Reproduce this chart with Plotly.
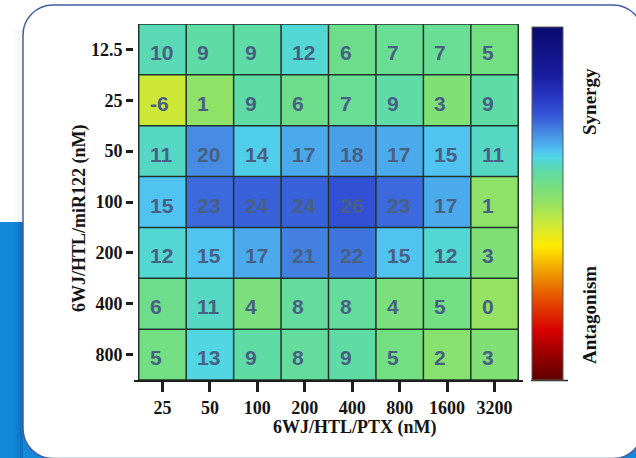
import plotly.graph_objects as go

# ---- data -------------------------------------------------------------
ptx_labels = ["25", "50", "100", "200", "400", "800", "1600", "3200"]
mir_labels = ["12.5", "25", "50", "100", "200", "400", "800"]

row_12_5 = [10, 9, 9, 12, 6, 7, 7, 5]
row_25 = [-6, 1, 9, 6, 7, 9, 3, 9]
row_50 = [11, 20, 14, 17, 18, 17, 15, 11]
row_100 = [15, 23, 24, 24, 26, 23, 17, 1]
row_200 = [12, 15, 17, 21, 22, 15, 12, 3]
row_400 = [6, 11, 4, 8, 8, 4, 5, 0]
row_800 = [5, 13, 9, 8, 9, 5, 2, 3]
scores = [row_12_5, row_25, row_50, row_100, row_200, row_400, row_800]

z_min, z_max = -50, 50

# ---- page geometry ----------------------------------------------------
W, H = 636, 458
ML, MR, MT, MB = 134, 113, 24, 78
PW, PH = W - ML - MR, H - MT - MB


def px(x):
    return (x - ML) / PW


def py(y):
    return (H - MB - y) / PH


def pt(x, y):
    return f"{px(x):.5f},{py(y):.5f}"


def rounded_rect(x0, y0, x1, y1, r):
    k = 0.5523 * r
    return (
        f"M{pt(x0 + r, y0)} L{pt(x1 - r, y0)} "
        f"C{pt(x1 - r + k, y0)} {pt(x1, y0 + r - k)} {pt(x1, y0 + r)} "
        f"L{pt(x1, y1 - r)} "
        f"C{pt(x1, y1 - r + k)} {pt(x1 - r + k, y1)} {pt(x1 - r, y1)} "
        f"L{pt(x0 + r, y1)} "
        f"C{pt(x0 + r - k, y1)} {pt(x0, y1 - r + k)} {pt(x0, y1 - r)} "
        f"L{pt(x0, y0 + r)} "
        f"C{pt(x0, y0 + r - k)} {pt(x0 + r - k, y0)} {pt(x0 + r, y0)} Z"
    )


synergy_scale = [
    [0.00, "rgb(95,0,0)"],
    [0.08, "rgb(160,0,0)"],
    [0.14, "rgb(215,0,0)"],
    [0.22, "rgb(228,70,0)"],
    [0.30, "rgb(238,150,0)"],
    [0.38, "rgb(255,235,0)"],
    [0.44, "rgb(205,232,55)"],
    [0.50, "rgb(150,226,98)"],
    [0.55, "rgb(115,222,130)"],
    [0.59, "rgb(95,219,165)"],
    [0.61, "rgb(85,215,195)"],
    [0.63, "rgb(80,215,225)"],
    [0.65, "rgb(80,195,240)"],
    [0.67, "rgb(75,170,235)"],
    [0.70, "rgb(70,140,228)"],
    [0.73, "rgb(60,105,220)"],
    [0.76, "rgb(50,80,212)"],
    [0.80, "rgb(40,55,195)"],
    [0.86, "rgb(25,30,160)"],
    [1.00, "rgb(10,10,110)"],
]

n_rows, n_cols = len(mir_labels), len(ptx_labels)

fig = go.Figure(
    go.Heatmap(
        z=scores,
        x=list(range(n_cols)),
        y=list(range(n_rows)),
        zmin=z_min,
        zmax=z_max,
        colorscale=synergy_scale,
        hoverinfo="skip",
        colorbar=dict(
            x=px(532), xanchor="left", xpad=0,
            y=0, yanchor="bottom", ypad=0,
            len=(380 - 27) / PH, lenmode="fraction",
            thickness=31, thicknessmode="pixels",
            outlinewidth=1, outlinecolor="rgb(90,90,90)",
            showticklabels=False, ticks="",
        ),
    )
)

shapes = []
# page backdrop: blue band behind the card, soft shadow on the card edge
shapes.append(dict(type="rect", xref="paper", yref="paper",
                   x0=px(-5), x1=px(W + 5), y0=py(222), y1=py(H + 5),
                   fillcolor="rgb(20,136,216)", line=dict(width=0), layer="below"))
for i, a in enumerate([0.05, 0.08, 0.12]):
    shapes.append(dict(type="rect", xref="paper", yref="paper",
                       x0=px(14 + 3 * i), x1=px(23), y0=py(222), y1=py(H + 5),
                       fillcolor=f"rgba(0,40,110,{a})", line=dict(width=0), layer="below"))
for i, a in enumerate([0.008, 0.012, 0.018]):
    shapes.append(dict(type="rect", xref="paper", yref="paper",
                       x0=px(10 + 4 * i), x1=px(23), y0=py(30), y1=py(222),
                       fillcolor=f"rgba(0,0,0,{a})", line=dict(width=0), layer="below"))
shapes.append(dict(type="path", xref="paper", yref="paper",
                   path=rounded_rect(23, 5, 643, 458.5, 30),
                   fillcolor="white", line=dict(color="rgb(65,95,165)", width=1.5),
                   layer="below"))

# cell borders
grid_col = "rgb(30,52,42)"
for c in range(n_cols + 1):
    shapes.append(dict(type="line", xref="x", yref="y",
                       x0=c - 0.5, x1=c - 0.5, y0=-0.5, y1=n_rows - 0.5,
                       line=dict(color=grid_col, width=1.5), layer="above"))
for r in range(n_rows + 1):
    shapes.append(dict(type="line", xref="x", yref="y",
                       x0=-0.5, x1=n_cols - 0.5, y0=r - 0.5, y1=r - 0.5,
                       line=dict(color=grid_col, width=1.5), layer="above"))
# base line under the colour bar
shapes.append(dict(type="line", xref="paper", yref="paper",
                   x0=px(531), x1=px(568), y0=py(380.5), y1=py(380.5),
                   line=dict(color="rgb(40,40,40)", width=1.5)))

annotations = []
for r in range(n_rows):
    for c in range(n_cols):
        annotations.append(dict(
            x=c - 0.5, y=r, xref="x", yref="y", text=str(scores[r][c]),
            xanchor="left", yanchor="middle", xshift=9, yshift=-3, showarrow=False,
            font=dict(family="Liberation Sans", size=21, weight="bold", color="rgb(72,96,132)"),
        ))

serif_bold = dict(family="Liberation Serif", weight="bold", color="rgb(20,20,20)")
annotations += [
    dict(x=px(355), y=py(428), xref="paper", yref="paper", text="6WJ/HTL/PTX (nM)",
         showarrow=False, xanchor="center", yanchor="middle", font=dict(size=18, **serif_bold)),
    dict(x=px(79), y=py(218), xref="paper", yref="paper", text="6WJ/HTL/miR122 (nM)",
         showarrow=False, textangle=-90, xanchor="center", yanchor="middle",
         font=dict(size=18, **serif_bold)),
    dict(x=px(589), y=py(102), xref="paper", yref="paper", text="Synergy",
         showarrow=False, textangle=-90, xanchor="center", yanchor="middle",
         font=dict(size=19, **serif_bold)),
    dict(x=px(589), y=py(315), xref="paper", yref="paper", text="Antagonism",
         showarrow=False, textangle=-90, xanchor="center", yanchor="middle",
         font=dict(size=19, **serif_bold)),
]

fig.update_layout(
    width=W, height=H,
    margin=dict(l=ML, r=MR, t=MT, b=MB, pad=0),
    paper_bgcolor="white",
    plot_bgcolor="rgba(0,0,0,0)",
    shapes=shapes,
    annotations=annotations,
    showlegend=False,
    xaxis=dict(
        range=[-0.6, n_cols - 0.4],
        tickmode="array", tickvals=list(range(n_cols)), ticktext=ptx_labels,
        showgrid=False, zeroline=False,
        showline=True, linecolor="rgb(30,30,30)", linewidth=2,
        ticks="outside", ticklen=10, tickwidth=2.5, tickcolor="rgb(30,30,30)",
        ticklabelstandoff=0,
        tickfont=dict(size=18, **serif_bold),
    ),
    yaxis=dict(
        range=[n_rows - 0.5, -0.5],
        tickmode="array", tickvals=list(range(n_rows)), ticktext=mir_labels,
        showgrid=False, zeroline=False, showline=False,
        ticks="outside", ticklen=7, tickwidth=2.5, tickcolor="rgb(30,30,30)",
        tickfont=dict(size=18, **serif_bold),
    ),
)

fig.write_html("out.html")
